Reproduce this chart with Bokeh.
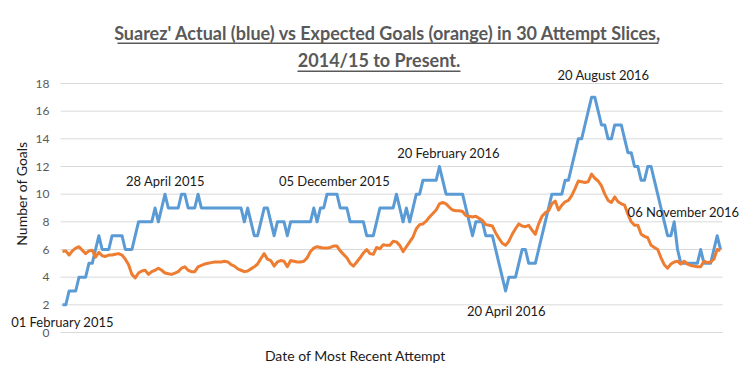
from bokeh.plotting import figure
from bokeh.models import Range1d, Label, BoxAnnotation
from bokeh.core.properties import value
from bokeh.embed import file_html
from bokeh.resources import INLINE

# ---- data ----
actual_goals = [2, 2, 3, 3, 3, 4, 4, 4, 5, 5, 6, 7, 6, 6, 6, 7, 7, 7, 7, 6,
                6, 6, 7, 8, 8, 8, 8, 8, 9, 8, 9, 10, 9, 9, 9, 9, 10, 10, 9, 9,
                9, 10, 9, 9, 9, 9, 9, 9, 9, 9, 9, 9, 9, 9, 9, 8, 9, 8, 7, 7,
                8, 9, 9, 8, 7, 8, 8, 8, 7, 8, 8, 8, 8, 8, 8, 8, 9, 8, 9, 9,
                10, 10, 10, 10, 9, 9, 9, 8, 8, 8, 8, 8, 7, 7, 7, 8, 9, 9, 9, 9,
                9, 10, 9, 8, 9, 8, 9, 10, 10, 11, 11, 11, 11, 11, 12, 11, 10, 10, 10, 10,
                10, 10, 9, 8, 7, 8, 8, 8, 7, 7, 7, 6, 5, 4, 3, 4, 4, 4, 5, 6,
                6, 5, 5, 5, 6, 7, 8, 9, 10, 10, 10, 10, 11, 11, 12, 13, 14, 14, 15, 16,
                17, 17, 16, 15, 15, 14, 14, 15, 15, 15, 14, 13, 13, 12, 12, 11, 11, 12, 12, 11,
                10, 9, 8, 7, 7, 8, 6, 5, 5, 5, 5, 5, 5, 6, 5, 5, 5, 6, 7, 6]

expected_goals = [5.85, 5.9, 5.6, 5.9, 6.1, 6.2, 5.95, 5.7, 5.9, 5.95,
                  5.45, 5.8, 5.55, 5.5, 5.6, 5.6, 5.65, 5.7, 5.6, 5.3,
                  4.9, 4.2, 3.95, 4.3, 4.45, 4.5, 4.2, 4.4, 4.5, 4.65,
                  4.5, 4.3, 4.25, 4.2, 4.3, 4.4, 4.65, 4.75, 4.5, 4.4,
                  4.4, 4.75, 4.85, 4.95, 5.0, 5.05, 5.1, 5.1, 5.1, 5.15,
                  5.1, 4.9, 4.8, 4.6, 4.5, 4.4, 4.45, 4.6, 4.75, 4.95,
                  5.35, 5.7, 5.3, 5.2, 4.8, 5.1, 5.2, 5.15, 4.75, 5.2,
                  5.15, 5.1, 5.1, 5.15, 5.4, 5.85, 6.1, 6.2, 6.15, 6.1,
                  6.1, 6.15, 6.25, 6.25, 5.9, 5.65, 5.4, 5.0, 4.8, 5.1,
                  5.4, 5.75, 6.0, 5.7, 5.65, 6.15, 6.05, 6.35, 6.3, 6.3,
                  6.6, 6.55, 6.3, 5.85, 6.2, 6.55, 6.9, 7.5, 7.8, 7.85,
                  8.05, 8.35, 8.6, 8.85, 9.3, 9.4, 9.3, 9.05, 8.85, 8.8,
                  8.8, 8.75, 8.45, 8.4, 8.35, 8.4, 8.25, 8.1, 7.8, 7.75,
                  7.7, 7.2, 6.8, 6.45, 6.3, 6.6, 7.1, 7.5, 7.85, 7.7,
                  7.65, 7.75, 7.4, 7.1, 7.85, 8.4, 8.65, 8.8, 9.3, 9.5,
                  8.85, 9.2, 9.45, 9.55, 9.9, 10.4, 10.95, 10.9, 10.85, 10.9,
                  11.45, 11.15, 10.95, 10.6, 10.0, 9.55, 9.4, 9.8, 9.45, 9.3,
                  9.2, 8.55, 8.0, 7.75, 7.75, 7.1, 6.95, 6.85, 6.3, 6.15,
                  6.0, 5.4, 4.9, 4.65, 4.95, 5.1, 5.15, 4.95, 5.15, 4.95,
                  4.85, 4.8, 4.75, 4.75, 5.15, 5.05, 5.1, 5.3, 6.0, 5.95]

attempt_index = list(range(len(actual_goals)))
y_ticks = [0, 2, 4, 6, 8, 10, 12, 14, 16, 18]
y_tick_labels = [str(t) for t in y_ticks]

title_line1 = "Suarez' Actual (blue) vs Expected Goals (orange) in 30 Attempt Slices,"
title_line2 = "2014/15 to Present."
x_title = "Date of Most Recent Attempt"
y_title = "Number of Goals"
date_labels = ["01 February 2015", "28 April 2015", "05 December 2015",
               "20 February 2016", "20 April 2016", "20 August 2016",
               "06 November 2016"]

# ---- geometry: plot area (page pixels) and its data extents ----
OFF = 0                       # where the canvas lands on the page
W, H = 749, 381
X0, X1 = -0.6, 199.6          # data x at plot-area left/right edge
Y0, Y1 = 0, 18                # data y at plot-area bottom/top edge
FL, FR, FT, FB = 60, 722, 83, 332


def dx(px):
    return X0 + (px - FL) * (X1 - X0) / (FR - FL)


def dy(py):
    return Y0 + (FB - py) * (Y1 - Y0) / (FB - FT)


# the frame spans the whole canvas so that texts outside the plot area are not clipped
p = figure(width=W, height=H, output_backend="svg", toolbar_location=None,
           x_range=Range1d(dx(OFF), dx(OFF + W)), y_range=Range1d(dy(OFF + H), dy(OFF)),
           min_border=0, min_border_left=0, min_border_right=0,
           min_border_top=0, min_border_bottom=0)
p.outline_line_color = None
p.background_fill_color = "white"
p.border_fill_color = "white"
p.xaxis.visible = False
p.yaxis.visible = False
p.grid.visible = False

# horizontal gridlines and tick labels from the tick list
p.segment(x0=dx(FL), x1=dx(FR), y0=y_ticks, y1=y_ticks, line_color="#D9D9D9", line_width=1)
p.text(x=dx(49), y=y_ticks, text=y_tick_labels, text_align="right", text_baseline="middle",
       text_font=value("Lato"), text_font_size="12px", text_color="#595959")

p.line(attempt_index, actual_goals, line_color="#5B9BD5", line_width=3, line_join="round")
p.line(attempt_index, expected_goals, line_color="#ED7D31", line_width=3, line_join="round")


def add_text(txt, px, py, size="13px", bold=False, color="#1a1a1a", angle=0):
    p.add_layout(Label(x=dx(px), y=dy(py), text=txt, text_align="center",
                       text_baseline="middle", text_font="Lato",
                       text_font_size=size, text_color=color, angle=angle,
                       text_font_style="bold" if bold else "normal"))


# title with underline
add_text(title_line1, 387.5, 32, size="18px", bold=True, color="#595959")
add_text(title_line2, 378.5, 59, size="18px", bold=True, color="#595959")
for (l, r, yb) in [(117, 658, 43), (297, 460, 71)]:
    p.add_layout(BoxAnnotation(left=dx(l), right=dx(r), top=dy(yb - 1), bottom=dy(yb + 0.5),
                               fill_color="#595959", fill_alpha=1, line_color=None))

# axis titles
add_text(x_title, 355, 355, size="14px")
add_text(y_title, 21, 193, size="14px", angle=1.5707963)

# date annotations
label_pos = [(62, 321), (165, 180), (334, 180), (448, 152), (506, 310), (603, 74), (683, 211)]
for txt, (px, py) in zip(date_labels, label_pos):
    add_text(txt, px, py)

open("out.html", "w").write(file_html(p, INLINE))
